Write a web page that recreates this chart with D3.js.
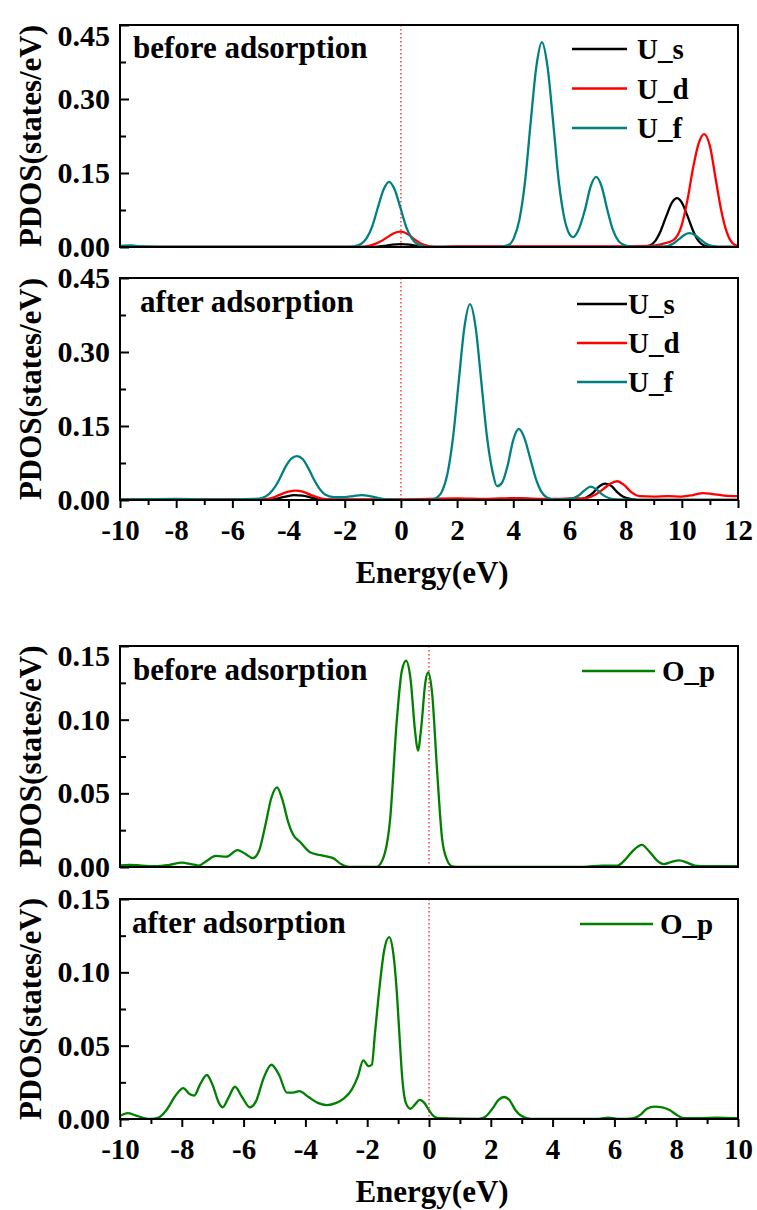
<!DOCTYPE html>
<html>
<head>
<meta charset="utf-8">
<script src="https://cdn.jsdelivr.net/npm/d3@7"></script>
<style>
body { margin: 0; background: #fff; }
</style>
</head>
<body>
<svg id="chart" width="757" height="1210"></svg>
<script>
// tick values
var xTicksU = [-10, -8, -6, -4, -2, 0, 2, 4, 6, 8, 10, 12];
var xTicksO = [-10, -8, -6, -4, -2, 0, 2, 4, 6, 8, 10];
var yTicksU = [0, 0.15, 0.30, 0.45];
var yTicksO = [0, 0.05, 0.10, 0.15];

// U states, before adsorption  [energy, pdos]
var usBefore = [[-10,0],[-1.0,0],[-0.6,0.002],[-0.3,0.005],[0,0.006],[0.3,0.005],[0.6,0.002],[1.0,0],
    [8.5,0],[8.85,0.003],[9.05,0.012],[9.25,0.033],[9.45,0.063],[9.65,0.090],[9.83,0.099],[10.0,0.090],
    [10.2,0.063],[10.4,0.033],[10.6,0.012],[10.8,0.003],[11.1,0],[12,0]];
var udBefore = [[-10,0],[-1.4,0],[-1.1,0.003],[-0.8,0.009],[-0.5,0.019],[-0.25,0.028],[0,0.031],[0.25,0.026],
    [0.5,0.015],[0.75,0.006],[1.0,0.002],[1.4,0],[2,0.001],[8.0,0.001],[8.8,0.002],[9.3,0.006],[9.7,0.014],
    [10.0,0.045],[10.2,0.095],[10.4,0.160],[10.6,0.210],[10.79,0.229],[11.0,0.205],[11.2,0.140],[11.4,0.075],
    [11.6,0.030],[11.8,0.008],[12,0.002]];
var ufBefore = [[-10,0.002],[-9.6,0.003],[-9.2,0.001],[-8.5,0],[-2.0,0],[-1.62,0.002],[-1.42,0.006],[-1.22,0.018],
    [-1.02,0.042],[-0.82,0.080],[-0.62,0.116],[-0.42,0.132],[-0.22,0.116],[-0.02,0.080],[0.18,0.042],[0.38,0.018],
    [0.58,0.006],[0.8,0.002],[1.2,0],[3.4,0],[3.82,0.004],[4.02,0.018],[4.22,0.056],[4.42,0.133],[4.62,0.253],
    [4.82,0.365],[5.02,0.415],[5.22,0.365],[5.42,0.253],[5.62,0.133],[5.82,0.058],[6.0,0.026],[6.12,0.020],
    [6.3,0.032],[6.55,0.075],[6.75,0.122],[6.95,0.142],[7.15,0.122],[7.35,0.075],[7.55,0.034],[7.75,0.012],
    [7.95,0.004],[8.3,0],[9.4,0.001],[9.7,0.007],[9.9,0.016],[10.1,0.025],[10.27,0.028],[10.45,0.025],
    [10.65,0.016],[10.85,0.007],[11.1,0.002],[11.5,0],[12,0]];

// U states, after adsorption
var usAfter = [[-10,0],[-4.8,0],[-4.4,0.003],[-4.1,0.007],[-3.8,0.010],[-3.5,0.009],[-3.2,0.005],[-2.9,0.002],
    [-2.5,0],[3.5,0],[4.2,0.003],[5,0],[6.3,0],[6.6,0.005],[6.85,0.015],[7.05,0.027],[7.27,0.033],[7.5,0.028],
    [7.7,0.016],[7.9,0.007],[8.2,0.002],[8.6,0],[12,0]];
var udAfter = [[-10,0.001],[-5,0.001],[-4.6,0.004],[-4.3,0.011],[-4.0,0.017],[-3.75,0.019],[-3.5,0.017],[-3.2,0.010],
    [-2.9,0.004],[-2.5,0.001],[0,0.001],[2,0.003],[3,0.002],[4,0.004],[5,0.002],[6,0.003],[6.6,0.004],[6.9,0.010],
    [7.2,0.022],[7.45,0.033],[7.7,0.038],[7.95,0.030],[8.2,0.016],[8.5,0.008],[9.0,0.007],[9.5,0.008],[10.0,0.007],
    [10.4,0.010],[10.75,0.014],[11.1,0.012],[11.5,0.009],[12,0.008]];
var ufAfter = [[-10,0.001],[-8,0.002],[-6,0.001],[-5.2,0.002],[-4.9,0.005],[-4.7,0.012],[-4.5,0.025],[-4.3,0.045],
    [-4.1,0.068],[-3.9,0.084],[-3.7,0.089],[-3.5,0.083],[-3.3,0.065],[-3.1,0.042],[-2.9,0.023],[-2.7,0.011],
    [-2.4,0.006],[-2.0,0.006],[-1.7,0.008],[-1.4,0.010],[-1.1,0.008],[-0.8,0.004],[-0.5,0.001],[0,0],[1.1,0],
    [1.26,0.004],[1.46,0.017],[1.66,0.054],[1.86,0.129],[2.06,0.241],[2.26,0.350],[2.46,0.397],[2.66,0.350],
    [2.86,0.241],[3.06,0.130],[3.26,0.058],[3.42,0.028],[3.6,0.035],[3.8,0.070],[4.0,0.122],[4.2,0.144],
    [4.4,0.125],[4.6,0.085],[4.8,0.044],[5.0,0.017],[5.2,0.005],[5.5,0.001],[6.0,0.002],[6.3,0.008],
    [6.55,0.020],[6.75,0.027],[6.95,0.022],[7.15,0.012],[7.4,0.004],[7.7,0.001],[8.5,0],[12,0]];

// O p states
var opBefore = [[-10,0.001],[-9.7,0.0015],[-9.3,0.001],[-8.8,0.0005],[-8.4,0.0015],[-8.0,0.003],[-7.7,0.002],
    [-7.45,0.001],[-7.2,0.004],[-6.9,0.0075],[-6.55,0.007],[-6.2,0.0115],[-5.95,0.009],[-5.7,0.006],[-5.5,0.011],
    [-5.3,0.028],[-5.1,0.047],[-4.92,0.054],[-4.75,0.046],[-4.55,0.030],[-4.4,0.022],[-4.17,0.017],[-3.85,0.010],
    [-3.5,0.008],[-3.1,0.006],[-2.85,0.002],[-2.6,0],[-1.7,0],[-1.5,0.005],[-1.26,0.032],[-1.04,0.100],
    [-0.88,0.133],[-0.74,0.140],[-0.6,0.128],[-0.45,0.092],[-0.36,0.079],[-0.25,0.095],[-0.12,0.125],
    [-0.03,0.132],[0.1,0.118],[0.26,0.066],[0.42,0.020],[0.58,0.005],[0.75,0.0005],[1.0,0],[5.0,0],[5.6,0.001],
    [6.1,0.001],[6.35,0.005],[6.6,0.011],[6.89,0.015],[7.15,0.010],[7.4,0.004],[7.6,0.002],[7.85,0.0035],
    [8.1,0.0045],[8.35,0.003],[8.6,0.001],[9.0,0.0005],[10,0.0005]];
var opAfter = [[-10,0.002],[-9.75,0.004],[-9.5,0.0025],[-9.2,0.0005],[-9.0,0],[-8.75,0.001],[-8.5,0.006],
    [-8.2,0.016],[-7.95,0.021],[-7.75,0.017],[-7.6,0.016],[-7.4,0.024],[-7.19,0.030],[-7.0,0.023],[-6.8,0.011],
    [-6.68,0.008],[-6.5,0.014],[-6.28,0.022],[-6.05,0.015],[-5.8,0.008],[-5.6,0.012],[-5.35,0.028],[-5.1,0.037],
    [-4.85,0.030],[-4.6,0.018],[-4.4,0.018],[-4.2,0.019],[-3.9,0.015],[-3.6,0.011],[-3.3,0.0095],[-3.0,0.011],
    [-2.75,0.014],[-2.5,0.020],[-2.3,0.029],[-2.13,0.040],[-1.95,0.036],[-1.85,0.037],[-1.75,0.058],[-1.59,0.092],
    [-1.45,0.115],[-1.29,0.124],[-1.15,0.112],[-1.04,0.086],[-0.95,0.055],[-0.87,0.029],[-0.75,0.011],
    [-0.6,0.007],[-0.45,0.010],[-0.3,0.013],[-0.15,0.011],[0,0.006],[0.15,0.002],[0.35,0.0005],[1.6,0],
    [1.85,0.002],[2.05,0.007],[2.25,0.013],[2.43,0.015],[2.6,0.013],[2.8,0.006],[3.0,0.002],[3.3,0],[5.4,0],
    [5.8,0.001],[6.2,0],[6.6,0.0005],[6.85,0.003],[7.05,0.007],[7.3,0.0085],[7.55,0.008],[7.8,0.006],
    [8.0,0.003],[8.25,0.0005],[8.8,0.0005],[9.3,0.001],[10,0.0005]];

var cBlack = '#000000', cRed = '#ff0000', cTeal = '#008080', cGreen = '#008000';

var svg = d3.select('#chart');
var left = 120, right = 738;
var tickFont = 30;

var panels = [
    {top: 25, bottom: 247, xTicks: xTicksU, yTicks: yTicksU, showX: false, topShift: 11,
        label: 'before adsorption', labelX: 133, labelY: 58,
        series: [{name: 'U_s', data: usBefore, color: cBlack}, {name: 'U_d', data: udBefore, color: cRed},
            {name: 'U_f', data: ufBefore, color: cTeal}],
        legend: {x1: 572, x2: 627, tx: 637, y0: 49, dy: 39.5}},
    {top: 278, bottom: 500, xTicks: xTicksU, yTicks: yTicksU, showX: true, topShift: 0,
        label: 'after adsorption', labelX: 140, labelY: 312,
        series: [{name: 'U_s', data: usAfter, color: cBlack}, {name: 'U_d', data: udAfter, color: cRed},
            {name: 'U_f', data: ufAfter, color: cTeal}],
        legend: {x1: 577, x2: 627, tx: 628, y0: 304, dy: 39}},
    {top: 646, bottom: 867, xTicks: xTicksO, yTicks: yTicksO, showX: false, topShift: 10,
        label: 'before adsorption', labelX: 133, labelY: 680,
        series: [{name: 'O_p', data: opBefore, color: cGreen}],
        legend: {x1: 582, x2: 655, tx: 662, y0: 671, dy: 0}},
    {top: 899, bottom: 1119, xTicks: xTicksO, yTicks: yTicksO, showX: true, topShift: 0,
        label: 'after adsorption', labelX: 132, labelY: 933,
        series: [{name: 'O_p', data: opAfter, color: cGreen}],
        legend: {x1: 580, x2: 653, tx: 660, y0: 924, dy: 0}}
];

function drawPanel(p, idx)
{
    var xDom = [p.xTicks[0], p.xTicks[p.xTicks.length - 1]];
    var yMax = p.yTicks[p.yTicks.length - 1];
    var x = d3.scaleLinear().domain(xDom).range([left, right]);
    var y = d3.scaleLinear().domain([0, yMax]).range([p.bottom, p.top]);
    var g = svg.append('g');

    var clipId = 'clip' + idx;
    svg.append('clipPath').attr('id', clipId).append('rect')
        .attr('x', left).attr('y', p.top).attr('width', right - left).attr('height', p.bottom - p.top);

    // fermi level
    g.append('line')
        .attr('x1', x(0)).attr('x2', x(0)).attr('y1', p.top).attr('y2', p.bottom)
        .attr('stroke', '#ff3030').attr('stroke-width', 1.4).attr('stroke-dasharray', '1.5,2.5');

    var line = d3.line()
        .x(function(d){ return x(d[0]); })
        .y(function(d){ return y(d[1]); })
        .curve(d3.curveMonotoneX);

    var curves = g.append('g').attr('clip-path', 'url(#' + clipId + ')');
    p.series.forEach(function(s){
        curves.append('path').datum(s.data)
            .attr('d', line)
            .attr('fill', 'none')
            .attr('stroke', s.color)
            .attr('stroke-width', 2.3)
            .attr('stroke-linejoin', 'round');
    });

    // y axis, ticks point inward
    var yStep = p.yTicks[1] - p.yTicks[0];
    var yMinor = p.yTicks.slice(0, -1).map(function(t){ return t + yStep / 2; });
    var ya = g.append('g').attr('transform', 'translate(' + left + ',0)')
        .call(d3.axisLeft(y).tickValues(p.yTicks).tickFormat(d3.format('.2f')).tickSize(-9).tickPadding(10));
    var ym = g.append('g').attr('transform', 'translate(' + left + ',0)')
        .call(d3.axisLeft(y).tickValues(yMinor).tickFormat('').tickSize(-6));
    ya.select('.domain').remove();
    ym.select('.domain').remove();
    ya.selectAll('text').attr('font-size', tickFont);
    if(p.topShift){
        ya.selectAll('.tick').filter(function(d){ return d === yMax; })
            .select('text').attr('dy', (0.32 * tickFont + p.topShift) + 'px');
    }

    if(p.showX){
        var xMinor = p.xTicks.slice(0, -1).map(function(t){ return t + 1; });
        var xa = g.append('g').attr('transform', 'translate(0,' + p.bottom + ')')
            .call(d3.axisBottom(x).tickValues(p.xTicks).tickFormat(d3.format('d')).tickSize(8).tickPadding(11));
        var xm = g.append('g').attr('transform', 'translate(0,' + p.bottom + ')')
            .call(d3.axisBottom(x).tickValues(xMinor).tickFormat('').tickSize(5));
        xa.select('.domain').remove();
        xm.select('.domain').remove();
        xa.selectAll('text').attr('font-size', 29)
            .text(function(d){ return d < 0 ? '-' + Math.abs(d) : d; });

        g.append('text')
            .attr('x', (left + right) / 2 + 3).attr('y', p.bottom + 83)
            .attr('text-anchor', 'middle')
            .attr('font-size', 31)
            .text('Energy(eV)');
    }
    g.selectAll('.tick line').attr('stroke', '#000').attr('stroke-width', 2);

    // frame
    g.append('rect')
        .attr('x', left).attr('y', p.top).attr('width', right - left).attr('height', p.bottom - p.top)
        .attr('fill', 'none').attr('stroke', '#000').attr('stroke-width', 2);

    g.append('text')
        .attr('transform', 'translate(41,' + ((p.top + p.bottom) / 2) + ') rotate(-90)')
        .attr('text-anchor', 'middle')
        .attr('font-size', 31)
        .text('PDOS(states/eV)');

    g.append('text')
        .attr('x', p.labelX).attr('y', p.labelY)
        .attr('font-size', 31)
        .text(p.label);

    var lg = g.append('g');
    p.series.forEach(function(s, i){
        var ly = p.legend.y0 + i * p.legend.dy;
        lg.append('line')
            .attr('x1', p.legend.x1).attr('x2', p.legend.x2).attr('y1', ly).attr('y2', ly)
            .attr('stroke', s.color).attr('stroke-width', 2.3);
        lg.append('text')
            .attr('x', p.legend.tx).attr('y', ly + 10)
            .attr('font-size', 29)
            .text(s.name);
    });
}

panels.forEach(drawPanel);

// every label in a bold serif face
svg.selectAll('g').attr('font-family', null);
svg.selectAll('text')
    .attr('font-family', 'Liberation Serif')
    .attr('font-weight', 'bold')
    .attr('fill', '#000');
</script>
</body>
</html>
